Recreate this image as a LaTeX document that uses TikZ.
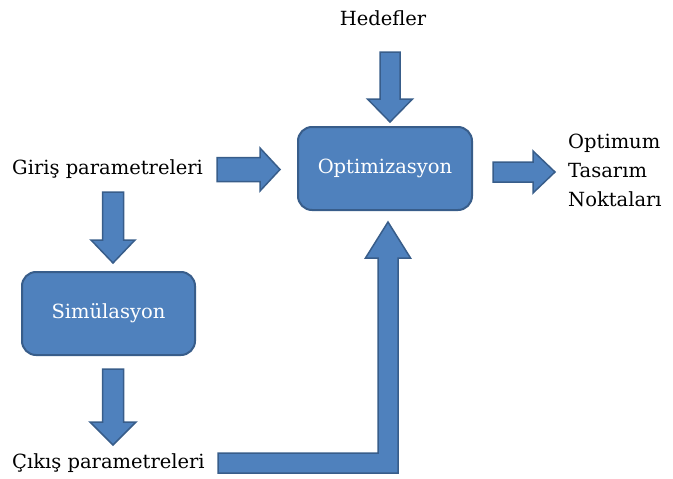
\documentclass[tikz,border=0pt]{standalone}
\usepackage{fontspec}
\setmainfont{DejaVu Serif}
\usetikzlibrary{calc}

\definecolor{boxfill}{HTML}{4F81BD}
\definecolor{boxline}{HTML}{385D8A}

\tikzset{
  proc/.style={draw=boxline, fill=boxfill, line width=2pt, rounded corners=14pt,
    minimum width=174pt, minimum height=83pt, text=white, inner sep=0pt,
    font=\fontsize{19.5}{23}\selectfont},
  lbl/.style={font=\fontsize{19.5}{29}\selectfont, text=black, inner sep=0pt},
  barrow/.style={draw=boxline, fill=boxfill, line width=1.5pt, line join=miter},
}

% straight block arrow: #1 tail, #2 tip, #3 shaft half width,
% #4 head half width, #5 head length
\newcommand\blockarrow[5]{%
  \coordinate (hb) at ($(#2)!#5pt!(#1)$);
  \path[barrow] ($(#1)!#3pt!90:(#2)$) -- ($(hb)!#3pt!-90:(#1)$)
    -- ($(hb)!#4pt!-90:(#1)$) -- (#2) -- ($(hb)!#4pt!90:(#1)$)
    -- ($(hb)!#3pt!90:(#1)$) -- ($(#1)!#3pt!-90:(#2)$) -- cycle;
}

\begin{document}
\begin{tikzpicture}[x=1pt,y=-1pt]
  \useasboundingbox (0,0) rectangle (673,479);

  % process boxes
  \node[proc] (opt) at (385,168.5) {Optimizasyon};
  \node[proc, minimum width=173pt] (sim) at (108.5,313.5) {Simülasyon};

  % labels
  \node[lbl] (hed) at (383,18) {Hedefler};
  \node[lbl, anchor=west] (giris) at (12,169) {Giriş parametreleri};
  \node[lbl, anchor=west] (cikis) at (12,463) {Çıkış parametreleri};
  \node[lbl, anchor=west, align=left] (out) at (568,170)
    {Optimum\\Tasarım\\Noktaları};

  % arrow end points
  \coordinate (hedT) at (390,52);
  \coordinate (hedH) at (390,122);
  \coordinate (girR0) at (217,169.5);
  \coordinate (girR1) at (280,169.5);
  \coordinate (girD0) at (113,192);
  \coordinate (girD1) at (113,263);
  \coordinate (simD0) at (113,369);
  \coordinate (simD1) at (113,445);
  \coordinate (outT) at (493,172);
  \coordinate (outH) at (555,172);

  \blockarrow{hedT}{hedH}{10}{22.5}{23}
  \blockarrow{girR0}{girR1}{12}{21.5}{20}
  \blockarrow{girD0}{girD1}{10.5}{22}{23}
  \blockarrow{simD0}{simD1}{10.5}{23}{23}
  \blockarrow{outT}{outH}{10}{21}{22}

  % bent arrow from the outputs up to the optimiser
  \coordinate (fbT) at (218,463);
  \coordinate (fbK) at (388,463);
  \coordinate (fbH) at (388,222);
  \path[barrow] ($(fbT)+(0,-10)$) -- ($(fbK)+(-10,-10)$) -- ($(fbH)+(-10,36)$)
    -- ($(fbH)+(-22.5,36)$) -- (fbH) -- ($(fbH)+(22.5,36)$)
    -- ($(fbH)+(10,36)$) -- ($(fbK)+(10,10)$) -- ($(fbT)+(0,10)$) -- cycle;
\end{tikzpicture}
\end{document}
